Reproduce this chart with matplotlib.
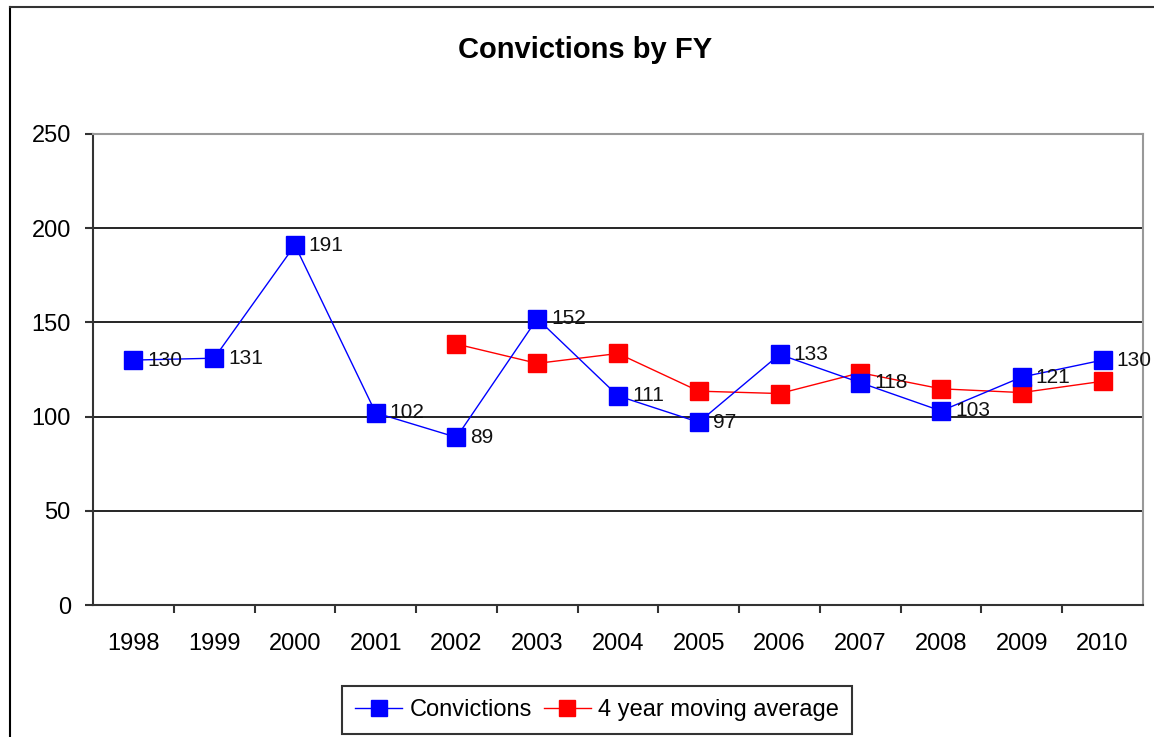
import matplotlib
matplotlib.use("Agg")
import matplotlib.pyplot as plt
from matplotlib.lines import Line2D

years = ["1998", "1999", "2000", "2001", "2002", "2003", "2004",
         "2005", "2006", "2007", "2008", "2009", "2010"]
convictions = [130, 131, 191, 102, 89, 152, 111, 97, 133, 118, 103, 121, 130]
ma_years = ["2002", "2003", "2004", "2005", "2006", "2007", "2008", "2009", "2010"]
moving_avg = [138.5, 128.25, 133.5, 113.5, 112.25, 123.25, 114.75, 112.75, 118.75]
y_ticks = [0, 50, 100, 150, 200, 250]

plt.rcParams['font.family'] = ['Liberation Sans', 'DejaVu Sans']

W, H = 1154, 737
fig = plt.figure(figsize=(W / 100, H / 100), dpi=100)
ax = fig.add_axes([93 / W, (H - 605) / H, (1143 - 93) / W, (605 - 134) / H])

x = list(range(len(years)))
xm = [years.index(y) for y in ma_years]

# gridlines
for t in y_ticks[1:-1]:
    ax.axhline(t, color='black', lw=1.2, zorder=1)

l1, = ax.plot(x, convictions, color='#0000FF', lw=1.0, marker='s', markersize=13,
              markerfacecolor='#0000FF', markeredgecolor='#0000FF', zorder=3,
              label='Convictions')
l2, = ax.plot(xm, moving_avg, color='#FF0000', lw=1.0, marker='s', markersize=13,
              markerfacecolor='#FF0000', markeredgecolor='#FF0000', zorder=2,
              label='4 year moving average')

for xi, v in zip(x, convictions):
    ax.annotate(str(v), (xi, v), xytext=(10, 0), textcoords='offset points',
                va='center', ha='left', fontsize=15, color='#111111', zorder=4)

ax.set_xlim(-0.5, len(years) - 0.5)
ax.set_ylim(0, 250)
ax.set_yticks(y_ticks)
ax.set_yticklabels([str(t) for t in y_ticks], fontsize=17)
ax.set_xticks(x)
ax.set_xticklabels(years, fontsize=17)
ax.tick_params(axis='x', length=0, pad=20)
ax.set_xticks([i - 0.5 for i in range(1, len(years))], minor=True)
ax.tick_params(axis='x', which='minor', length=6, width=1.5, direction='out', color='#333333')
ax.tick_params(axis='y', length=6, width=1.5, direction='out', pad=10, color='#333333')

for s in ['left', 'bottom']:
    ax.spines[s].set_color('#333333')
    ax.spines[s].set_linewidth(1.5)
for s in ['top', 'right']:
    ax.spines[s].set_color('#999999')
    ax.spines[s].set_linewidth(1.5)

fig.text(585 / W, 1 - 50 / H, 'Convictions by FY', ha='center', va='center',
         fontsize=21, fontweight='bold')

leg = fig.legend(handles=[l1, l2], loc='center',
                 bbox_to_anchor=(597 / W, 1 - 710 / H), ncol=2, fontsize=17,
                 frameon=True, fancybox=False, edgecolor='black',
                 handlelength=2.0, handletextpad=0.3, columnspacing=0.5,
                 borderpad=0.55, borderaxespad=0, markerscale=0.85)
leg.get_frame().set_linewidth(1.5)

# outer figure frame (left and top)
fig.add_artist(Line2D([10 / W, 10 / W], [0, 1 - 7 / H], color='black', lw=1.5,
                      transform=fig.transFigure))
fig.add_artist(Line2D([10 / W, 1], [1 - 7 / H, 1 - 7 / H], color='#333333', lw=1.5,
                      transform=fig.transFigure))

fig.savefig('out.png', dpi=100, facecolor='white')
